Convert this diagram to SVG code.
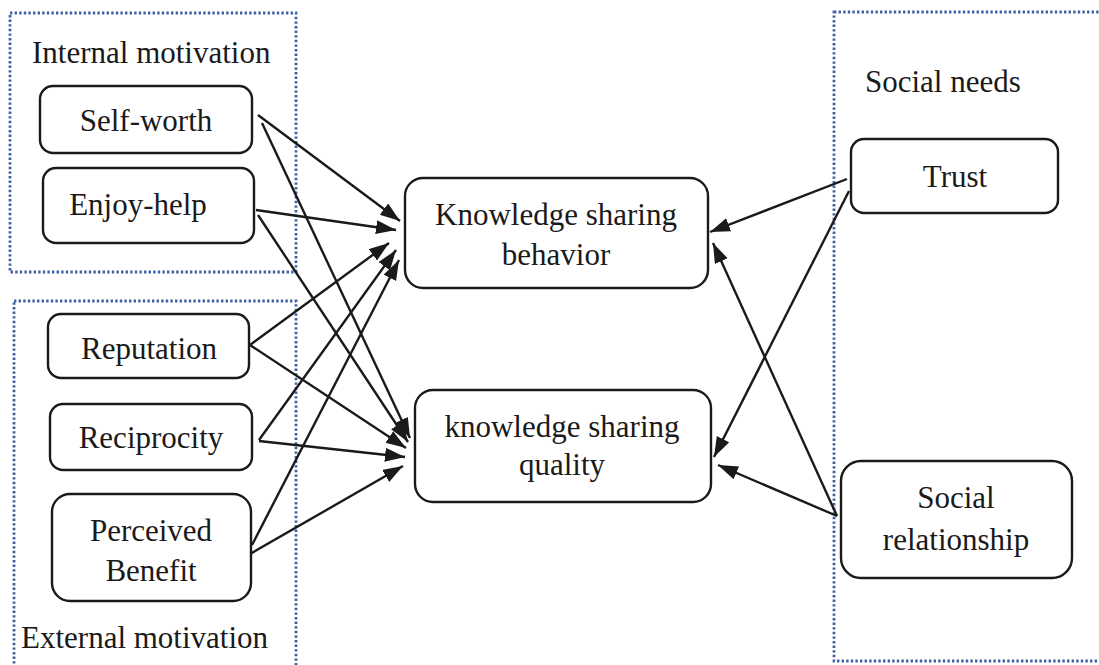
<svg xmlns="http://www.w3.org/2000/svg" width="1099" height="665" viewBox="0 0 1099 665">
<defs>
<marker id="ah" markerUnits="userSpaceOnUse" markerWidth="22" markerHeight="16" refX="20" refY="7" orient="auto">
<path d="M0,0 L20,7 L0,14 z" fill="#1a1a1a"/>
</marker>
<style>
.grp{fill:none;stroke:#3f62a5;stroke-width:2.8;stroke-dasharray:2.4 2.2}
.box{fill:#fff;stroke:#1a1a1a;stroke-width:2.4}
.t{font-family:"Liberation Serif","Times New Roman",serif;font-size:31px;fill:#1a1a1a}
.c{text-anchor:middle}
.ln{stroke:#1a1a1a;stroke-width:2.4;fill:none;marker-end:url(#ah)}
</style>
</defs>
<rect width="1099" height="665" fill="#fff"/>
<g id="groups">
<rect class="grp" x="10" y="13" width="286" height="259"/>
<rect class="grp" x="14" y="301" width="282" height="380"/>
<rect class="grp" x="834" y="12" width="290" height="649"/>
<text class="t" x="32" y="63">Internal motivation</text>
<text class="t" x="21" y="648">External motivation</text>
<text class="t" x="865" y="92">Social needs</text>
</g>
<g id="connectors">
<line class="ln" x1="258" y1="115" x2="400" y2="221"/>
<line class="ln" x1="262" y1="123" x2="410" y2="438"/>
<line class="ln" x1="256" y1="210" x2="396" y2="230"/>
<line class="ln" x1="258" y1="215" x2="408" y2="442"/>
<line class="ln" x1="250" y1="345" x2="389" y2="243"/>
<line class="ln" x1="250" y1="345" x2="406" y2="448"/>
<line class="ln" x1="259" y1="440" x2="396" y2="250"/>
<line class="ln" x1="259" y1="441" x2="405" y2="457"/>
<line class="ln" x1="252" y1="545" x2="399" y2="260"/>
<line class="ln" x1="243" y1="558" x2="403" y2="466"/>
<line class="ln" x1="847" y1="179" x2="710" y2="232"/>
<line class="ln" x1="849" y1="191" x2="714" y2="457"/>
<line class="ln" x1="837" y1="516" x2="713" y2="243"/>
<line class="ln" x1="837" y1="516" x2="718" y2="465"/>
</g>
<g id="self-worth"><rect class="box" x="40" y="86" width="212" height="67" rx="13"/><text class="t c" x="146" y="131">Self-worth</text></g>
<g id="enjoy-help"><rect class="box" x="43" y="168" width="211" height="75" rx="13"/><text class="t c" x="138" y="215">Enjoy-help</text></g>
<g id="reputation"><rect class="box" x="48" y="314" width="201" height="64" rx="13"/><text class="t c" x="149" y="359">Reputation</text></g>
<g id="reciprocity"><rect class="box" x="50" y="404" width="202" height="66" rx="13"/><text class="t c" x="151" y="448">Reciprocity</text></g>
<g id="perceived-benefit"><rect class="box" x="52" y="494" width="199" height="107" rx="18"/><text class="t c" x="151" y="541">Perceived</text><text class="t c" x="151" y="581">Benefit</text></g>
<g id="ks-behavior"><rect class="box" x="405" y="178" width="303" height="110" rx="18"/><text class="t c" x="556" y="225">Knowledge sharing</text><text class="t c" x="556" y="265">behavior</text></g>
<g id="ks-quality"><rect class="box" x="415" y="390" width="296" height="112" rx="18"/><text class="t c" x="562" y="437">knowledge sharing</text><text class="t c" x="562" y="475">quality</text></g>
<g id="trust"><rect class="box" x="851" y="139" width="207" height="74" rx="13"/><text class="t c" x="955" y="187">Trust</text></g>
<g id="social-relationship"><rect class="box" x="841" y="461" width="231" height="117" rx="20"/><text class="t c" x="956" y="508">Social</text><text class="t c" x="956" y="550">relationship</text></g>
</svg>
